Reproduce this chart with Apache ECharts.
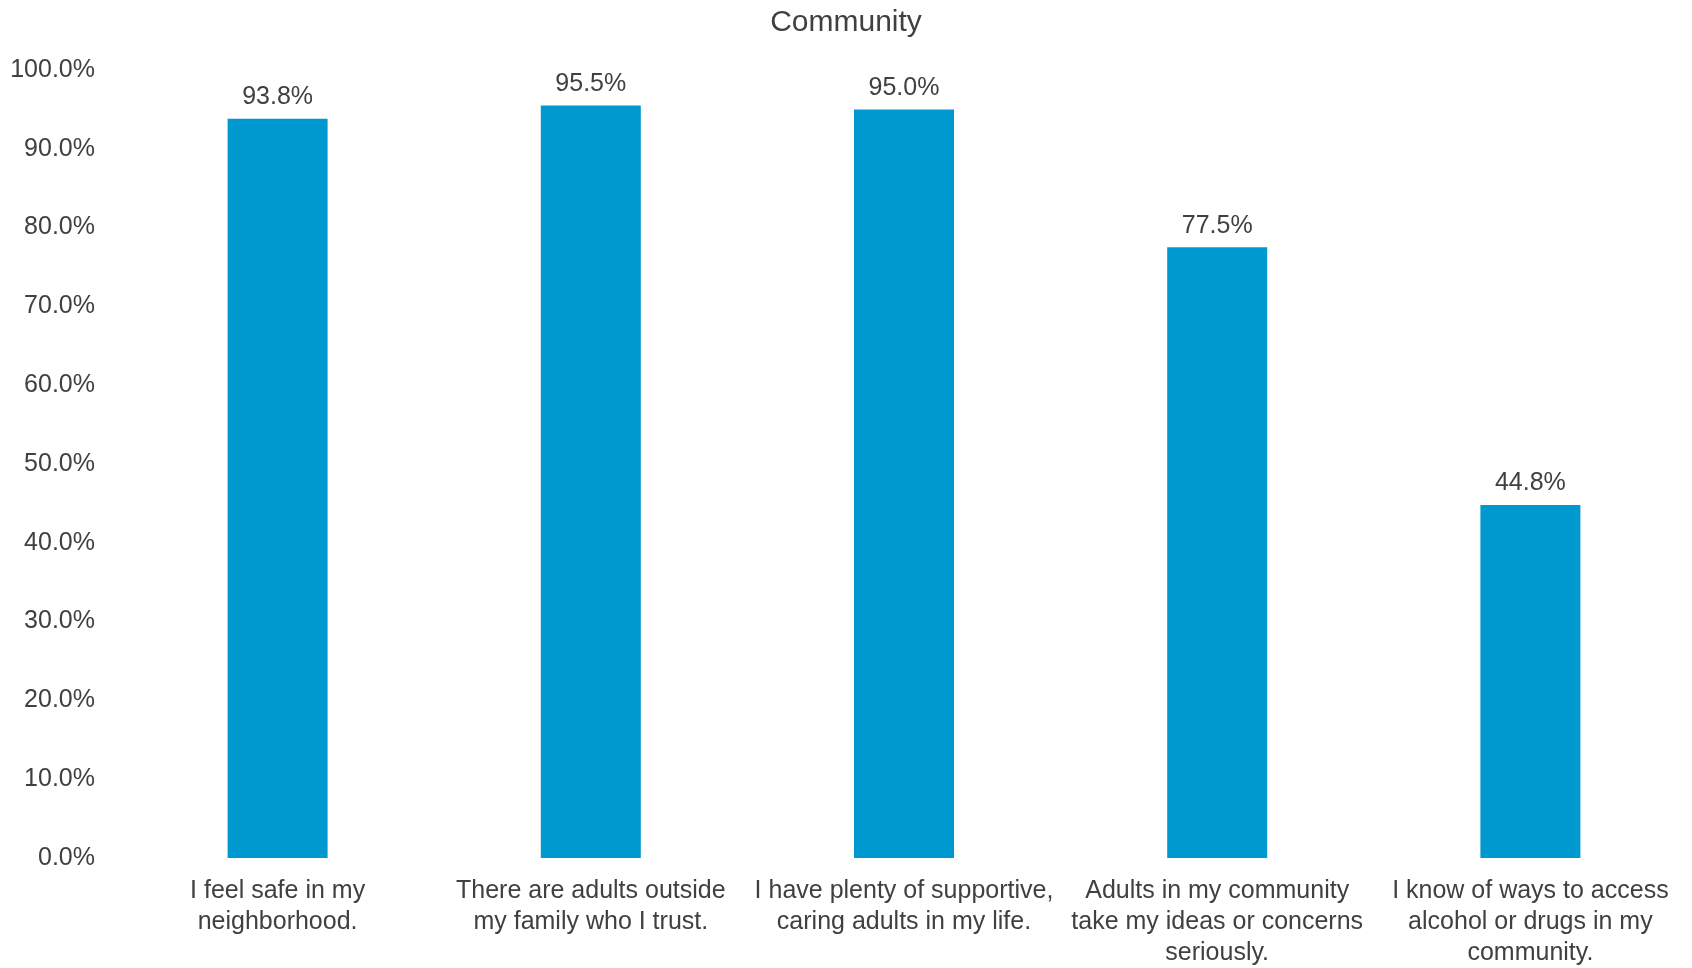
<!DOCTYPE html>
<html>
<head>
<meta charset="utf-8">
<script src="https://cdn.jsdelivr.net/npm/echarts@6/dist/echarts.min.js"></script>
<style>
html,body{margin:0;padding:0;background:#fff;}
#chart{width:1692px;height:968px;}
</style>
</head>
<body>
<div id="chart"></div>
<script>
const title = 'Community';
const categories = [
  'I feel safe in my\nneighborhood.',
  'There are adults outside\nmy family who I trust.',
  'I have plenty of supportive,\ncaring adults in my life.',
  'Adults in my community\ntake my ideas or concerns\nseriously.',
  'I know of ways to access\nalcohol or drugs in my\ncommunity.'
];
const values = [93.8, 95.5, 95.0, 77.5, 44.8];

const font = 'Liberation Sans, Arial, Helvetica, sans-serif';
const textColor = '#404040';

const chart = echarts.init(document.getElementById('chart'));
chart.setOption({
  animation: false,
  backgroundColor: '#fff',
  title: {
    text: title,
    left: 'center',
    top: 3,
    textStyle: {fontFamily: font, fontSize: 30, fontWeight: 'normal', color: textColor}
  },
  grid: {left: 121, right: 5, top: 70, bottom: 110, containLabel: false, outerBoundsMode: 'none'},
  xAxis: {
    type: 'category',
    data: categories,
    axisLine: {show: false},
    axisTick: {show: false},
    axisLabel: {
      interval: 0,
      margin: 18,
      fontFamily: font,
      fontSize: 25,
      lineHeight: 31,
      color: textColor,
      align: 'center'
    }
  },
  yAxis: {
    type: 'value',
    min: 0,
    max: 100,
    interval: 10,
    axisLine: {show: false},
    axisTick: {show: false},
    splitLine: {show: false},
    axisLabel: {
      margin: 26,
      fontFamily: font,
      fontSize: 25,
      color: textColor,
      padding: [3, 0, 0, 0],
      formatter: v => v.toFixed(1) + '%'
    }
  },
  series: [{
    type: 'bar',
    data: values,
    barWidth: 100,
    itemStyle: {color: '#0099CF'},
    label: {
      show: true,
      position: 'top',
      distance: 9,
      fontFamily: font,
      fontSize: 25,
      color: textColor,
      formatter: p => p.value.toFixed(1) + '%'
    }
  }]
});
</script>
</body>
</html>
